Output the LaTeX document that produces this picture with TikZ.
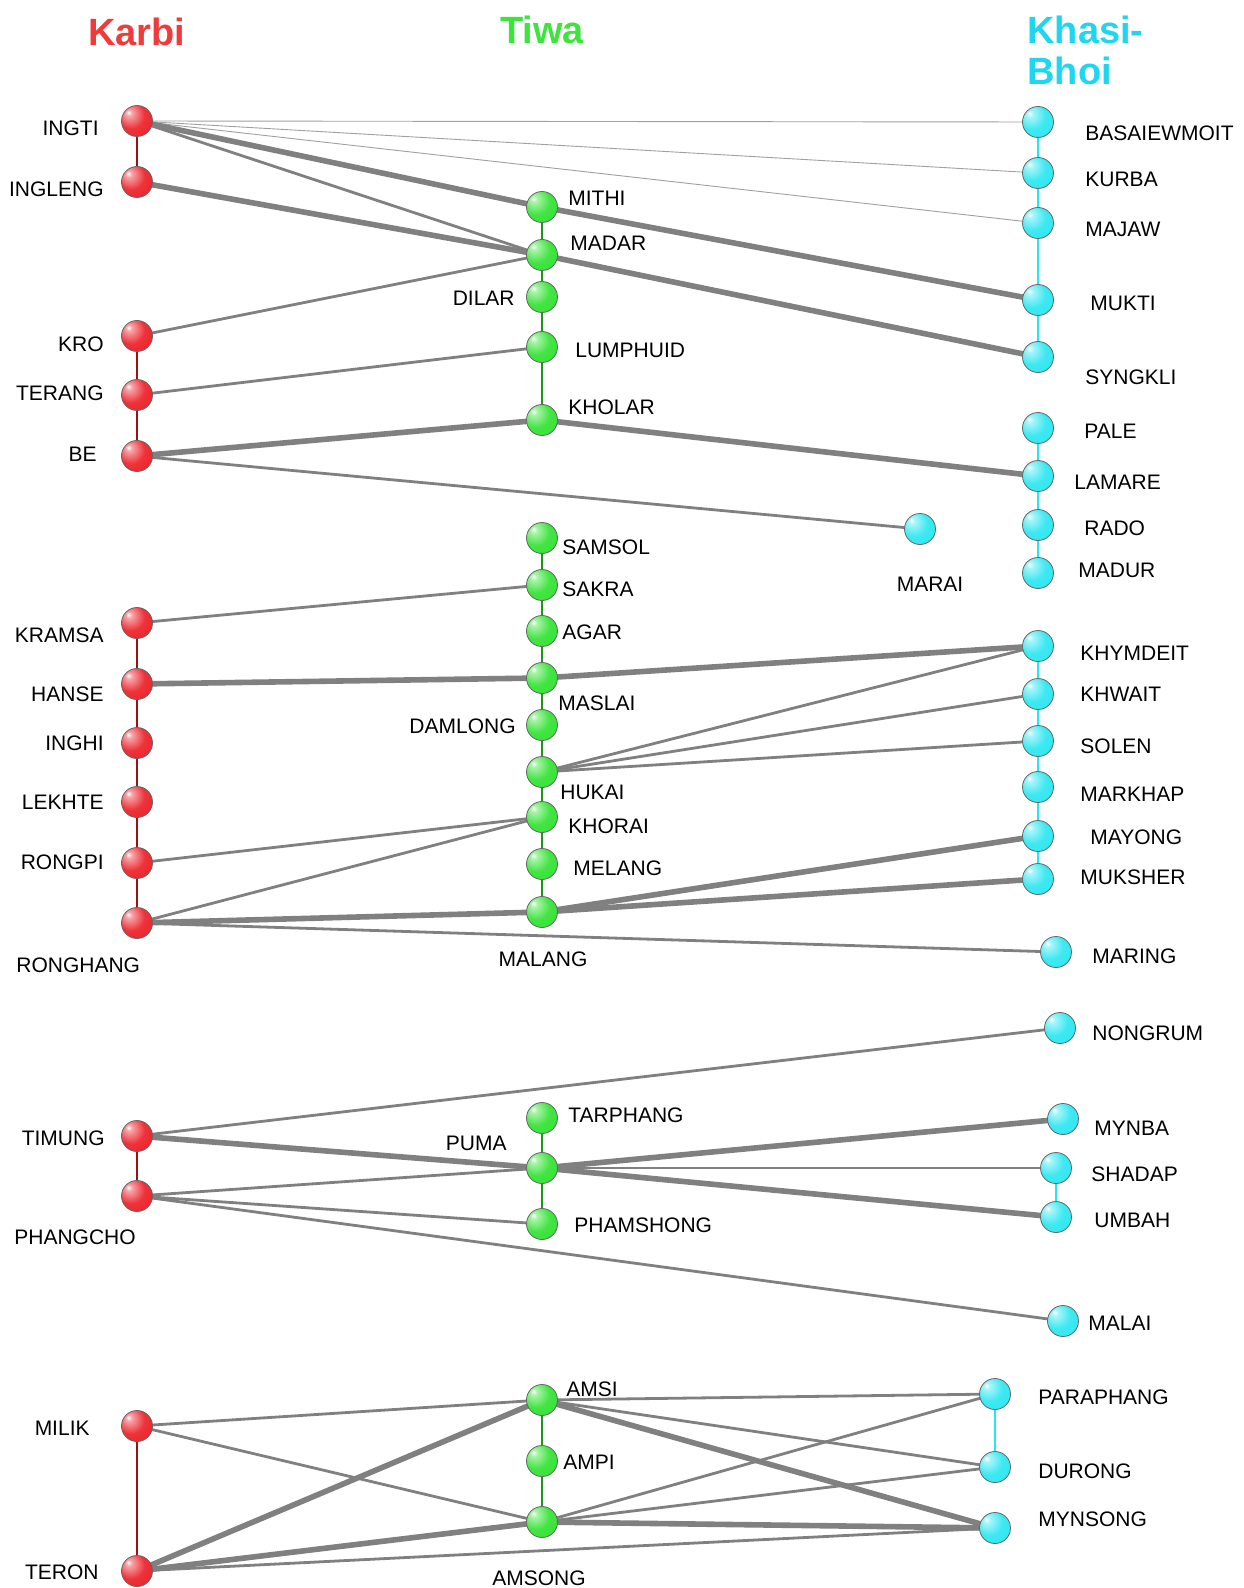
\documentclass[tikz,border=0pt]{standalone}
\usepackage{fontspec}
\setmainfont{Liberation Sans}
\usepackage{xcolor}
\usetikzlibrary{backgrounds}

\definecolor{karbired}{RGB}{239,59,59}
\definecolor{tiwagreen}{RGB}{62,228,62}
\definecolor{khasicyan}{RGB}{30,214,240}
\definecolor{linkgray}{RGB}{128,128,128}
\definecolor{ballred}{RGB}{236,28,36}
\definecolor{ballgreen}{RGB}{46,226,46}
\definecolor{ballcyan}{RGB}{40,230,240}

\newcommand\mkball[2]{\pgfdeclareradialshading{#1}{\pgfpoint{-14bp}{14bp}}{color(0bp)=(white);
	color(5bp)=(#2!40!white); color(22bp)=(#2!90!white); color(45bp)=(#2); color(72bp)=(#2!72!black)}}
\mkball{karbiball}{ballred}
\mkball{tiwaball}{ballgreen}
\mkball{khasiball}{ballcyan}

\tikzset{
	vtx/.style={circle,minimum size=15.5pt,inner sep=0pt,draw=black!60,line width=0.4pt},
	karbi/.style={vtx,shading=karbiball},
	tiwa/.style={vtx,shading=tiwaball},
	khasi/.style={vtx,shading=khasiball},
	lab/.style={font=\fontsize{10.5}{12}\selectfont,inner sep=0pt},
	ttl/.style={font=\fontsize{19}{22}\selectfont\bfseries,inner sep=0pt},
	thinlink/.style={draw=linkgray!75,line width=0.45pt},
	link/.style={draw=linkgray,line width=1.4pt},
	heavylink/.style={draw=linkgray,line width=2.8pt},
	redchain/.style={draw={rgb,255:red,150;green,20;blue,20},line width=1.3pt},
	greenchain/.style={draw={rgb,255:red,30;green,150;blue,30},line width=1.2pt},
	cyanchain/.style={draw=ballcyan,line width=1.2pt}
}

\begin{document}
\begin{tikzpicture}[x=0.5pt,y=-0.5pt]

			\useasboundingbox (0,0) rectangle (1243,1588);

			\def \kx {137};
			\def \tx {542};

			\node[ttl,text=karbired] (tKarbi) at (137,32) {Karbi};
			\node[ttl,text=tiwagreen] (tTiwa) at (542,30) {Tiwa};
			\node[ttl,text=khasicyan,anchor=west] (tKhasi) at (1027,30) {Khasi-};
			\node[ttl,text=khasicyan,anchor=west] (tBhoi) at (1027,71) {Bhoi};

			\foreach \n/\y/\lx/\ly/\a in {INGTI/121/99/128/east, INGLENG/182/104/189/east,
			    KRO/336/104/344/east, TERANG/395/104/393/east, BE/456/97/454/east,
			    KRAMSA/623/104/635/east, HANSE/684/104/694/east, INGHI/743/104/743/east,
			    LEKHTE/802/104/802/east, RONGPI/863/104/862/east, RONGHANG/923/16/965/west,
			    TIMUNG/1136/105/1138/east, PHANGCHO/1196/14/1237/west,
			    MILIK/1426/90/1428/east, TERON/1571/99/1572/east} {
			    \node[karbi] (\n) at (\kx,\y) {};
			    \node[lab,anchor=\a] (l\n) at (\lx,\ly) {\n};
			}

			\foreach \n/\y/\lx/\ly/\a in {MITHI/207/568/198/west, MADAR/255/570/243/west,
			    DILAR/297/515/298/east, LUMPHUID/347/575/350/west, KHOLAR/420/568/407/west,
			    SAMSOL/538/562/547/west, SAKRA/585/562/589/west, AGAR/631/562/632/west,
			    MASLAI/678/558/703/west, DAMLONG/725/516/726/east, HUKAI/772/560/792/west,
			    KHORAI/817/568/826/west, MELANG/864/573/868/west, MALANG/912/543/959/center,
			    TARPHANG/1118/568/1115/west, PUMA/1168/507/1143/east, PHAMSHONG/1224/574/1225/west,
			    AMSI/1400/566/1389/west, AMPI/1461/563/1462/west, AMSONG/1522/539/1578/center} {
			    \node[tiwa] (\n) at (\tx,\y) {};
			    \node[lab,anchor=\a] (l\n) at (\lx,\ly) {\n};
			}

			\foreach \n/\x/\y/\lx/\ly/\a in {BASAIEWMOIT/1038/122/1085/133/west,
			    KURBA/1038/173/1085/179/west, MAJAW/1038/223/1085/229/west,
			    MUKTI/1038/300/1090/303/west, SYNGKLI/1038/357/1085/377/west,
			    PALE/1038/428/1084/431/west, LAMARE/1038/476/1074/482/west,
			    RADO/1038/525/1084/528/west, MADUR/1038/573/1078/570/west,
			    MARAI/920/529/930/584/center,
			    KHYMDEIT/1038/646/1080/653/west, KHWAIT/1038/694/1080/694/west,
			    SOLEN/1038/741/1080/746/west, MARKHAP/1038/787/1080/794/west,
			    MAYONG/1038/836/1090/837/west, MUKSHER/1038/879/1080/877/west,
			    MARING/1056/952/1092/956/west, NONGRUM/1060/1028/1092/1033/west,
			    MYNBA/1063/1119/1094/1128/west, SHADAP/1056/1168/1091/1174/west,
			    UMBAH/1056/1217/1094/1220/west, MALAI/1063/1321/1088/1323/west,
			    PARAPHANG/995/1394/1038/1397/west, DURONG/995/1467/1038/1471/west,
			    MYNSONG/995/1528/1038/1519/west} {
			    \node[khasi] (\n) at (\x,\y) {};
			    \node[lab,anchor=\a] (l\n) at (\lx,\ly) {\n};
			}

			\begin{scope}[on background layer]
			\foreach \a/\b in {INGTI/INGLENG, KRO/TERANG, TERANG/BE, KRAMSA/HANSE, HANSE/INGHI,
			    INGHI/LEKHTE, LEKHTE/RONGPI, RONGPI/RONGHANG, TIMUNG/PHANGCHO, MILIK/TERON}
			    \draw[redchain] (\a.center) -- (\b.center);
			\foreach \a/\b in {MITHI/MADAR, MADAR/DILAR, DILAR/LUMPHUID, LUMPHUID/KHOLAR,
			    SAMSOL/SAKRA, SAKRA/AGAR, AGAR/MASLAI, MASLAI/DAMLONG, DAMLONG/HUKAI,
			    HUKAI/KHORAI, KHORAI/MELANG, MELANG/MALANG, TARPHANG/PUMA, PUMA/PHAMSHONG,
			    AMSI/AMPI, AMPI/AMSONG}
			    \draw[greenchain] (\a.center) -- (\b.center);
			\foreach \a/\b in {BASAIEWMOIT/KURBA, KURBA/MAJAW, MAJAW/MUKTI, MUKTI/SYNGKLI,
			    PALE/LAMARE, LAMARE/RADO, RADO/MADUR, KHYMDEIT/KHWAIT, KHWAIT/SOLEN,
			    SOLEN/MARKHAP, MARKHAP/MAYONG, MAYONG/MUKSHER, SHADAP/UMBAH, PARAPHANG/DURONG}
			    \draw[cyanchain] (\a.center) -- (\b.center);

			\foreach \a/\b in {INGTI/BASAIEWMOIT, INGTI/KURBA, INGTI/MAJAW}
			    \draw[thinlink] (\a.center) -- (\b.center);
			\foreach \a/\b in {INGTI/MADAR, KRO/MADAR, TERANG/LUMPHUID, BE/MARAI, KRAMSA/SAKRA,
			    HUKAI/KHYMDEIT, HUKAI/KHWAIT, HUKAI/SOLEN, RONGPI/KHORAI, RONGHANG/KHORAI,
			    RONGHANG/MARING, TIMUNG/NONGRUM, PUMA/SHADAP, PHANGCHO/PUMA, PHANGCHO/PHAMSHONG,
			    PHANGCHO/MALAI, MILIK/AMSI, MILIK/AMSONG, TERON/MYNSONG, AMSI/PARAPHANG,
			    AMSI/DURONG, AMSONG/PARAPHANG, AMSONG/DURONG}
			    \draw[link] (\a.center) -- (\b.center);
			\foreach \a/\b in {INGTI/MITHI, MITHI/MUKTI, INGLENG/MADAR, MADAR/SYNGKLI, BE/KHOLAR,
			    KHOLAR/LAMARE, HANSE/MASLAI, MASLAI/KHYMDEIT, RONGHANG/MALANG, MALANG/MAYONG,
			    MALANG/MUKSHER, TIMUNG/PUMA, PUMA/UMBAH, PUMA/MYNBA, TERON/AMSI, TERON/AMSONG,
			    AMSI/MYNSONG, AMSONG/MYNSONG}
			    \draw[heavylink] (\a.center) -- (\b.center);
			\end{scope}

\end{tikzpicture}
\end{document}
